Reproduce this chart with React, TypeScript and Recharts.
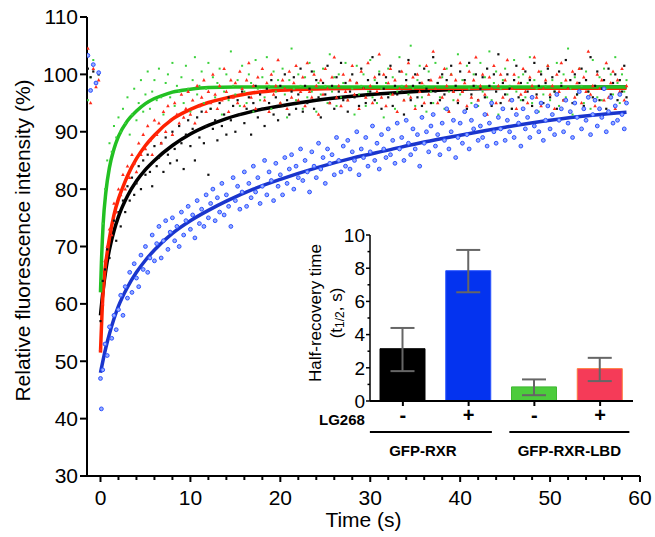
import React from 'react';
import {
  ComposedChart,
  BarChart,
  Bar,
  Cell,
  ErrorBar,
  Scatter,
  Line,
  XAxis,
  YAxis,
} from 'recharts';

// ---- main FRAP recovery data (time in s, intensity in %) ----
// frames every 0.25 s, rows of 10 frames (2.5 s)
const times = [
  0, 0.25, 0.5, 0.75, 1, 1.25, 1.5, 1.75, 2, 2.25,
  2.5, 2.75, 3, 3.25, 3.5, 3.75, 4, 4.25, 4.5, 4.75,
  5, 5.25, 5.5, 5.75, 6, 6.25, 6.5, 6.75, 7, 7.25,
  7.5, 7.75, 8, 8.25, 8.5, 8.75, 9, 9.25, 9.5, 9.75,
  10, 10.25, 10.5, 10.75, 11, 11.25, 11.5, 11.75, 12, 12.25,
  12.5, 12.75, 13, 13.25, 13.5, 13.75, 14, 14.25, 14.5, 14.75,
  15, 15.25, 15.5, 15.75, 16, 16.25, 16.5, 16.75, 17, 17.25,
  17.5, 17.75, 18, 18.25, 18.5, 18.75, 19, 19.25, 19.5, 19.75,
  20, 20.25, 20.5, 20.75, 21, 21.25, 21.5, 21.75, 22, 22.25,
  22.5, 22.75, 23, 23.25, 23.5, 23.75, 24, 24.25, 24.5, 24.75,
  25, 25.25, 25.5, 25.75, 26, 26.25, 26.5, 26.75, 27, 27.25,
  27.5, 27.75, 28, 28.25, 28.5, 28.75, 29, 29.25, 29.5, 29.75,
  30, 30.25, 30.5, 30.75, 31, 31.25, 31.5, 31.75, 32, 32.25,
  32.5, 32.75, 33, 33.25, 33.5, 33.75, 34, 34.25, 34.5, 34.75,
  35, 35.25, 35.5, 35.75, 36, 36.25, 36.5, 36.75, 37, 37.25,
  37.5, 37.75, 38, 38.25, 38.5, 38.75, 39, 39.25, 39.5, 39.75,
  40, 40.25, 40.5, 40.75, 41, 41.25, 41.5, 41.75, 42, 42.25,
  42.5, 42.75, 43, 43.25, 43.5, 43.75, 44, 44.25, 44.5, 44.75,
  45, 45.25, 45.5, 45.75, 46, 46.25, 46.5, 46.75, 47, 47.25,
  47.5, 47.75, 48, 48.25, 48.5, 48.75, 49, 49.25, 49.5, 49.75,
  50, 50.25, 50.5, 50.75, 51, 51.25, 51.5, 51.75, 52, 52.25,
  52.5, 52.75, 53, 53.25, 53.5, 53.75, 54, 54.25, 54.5, 54.75,
  55, 55.25, 55.5, 55.75, 56, 56.25, 56.5, 56.75, 57, 57.25,
  57.5, 57.75, 58, 58.25, 58.5,
];

const greenPts = [
  64, 74, 80, 85, 88, 86.5, 91, 89, 92.5, 90,
  94, 91.5, 96, 89.5, 93, 97.5, 92, 95, 99, 93.5,
  96.5, 100.5, 94, 97, 99, 95.5, 101, 96, 93, 98.5,
  100, 96, 102, 94.5, 98, 97, 99.5, 95, 101.5, 97.5,
  93.5, 99, 103, 96.5, 98, 100.5, 95, 97.5, 102, 94,
  99.5, 96, 98.5, 101, 93, 97, 100, 95.5, 104, 98,
  96.5, 99, 94.5, 101.5, 97, 95, 100, 98.5, 93.5, 102.5,
  97.5, 95.5, 99.5, 96, 103, 98, 94, 100.5, 97, 99,
  95, 101, 96.5, 92.5, 99, 104.5, 97.5, 95.5, 100, 98,
  94, 99.5, 96, 102, 97, 100.5, 93.5, 98.5, 96.5, 101,
  98, 95, 103.5, 97, 99.5, 94.5, 100, 96, 98.5, 102,
  95.5, 99, 97.5, 93, 101.5, 96.5, 98, 100, 94.5, 97,
  102.5, 96, 99, 95, 100.5, 97.5, 92.5, 98.5, 101, 96.5,
  99.5, 94, 97, 103, 98, 95.5, 100, 96.5, 105, 97.5,
  94.5, 99, 101.5, 96, 98, 93.5, 100.5, 97, 95, 102,
  98.5, 96, 99.5, 94, 101, 97, 100, 95.5, 98, 103.5,
  96.5, 99, 93.5, 101.5, 97.5, 95, 100, 98, 94.5, 102,
  97, 99.5, 96, 104, 95.5, 98.5, 100.5, 93, 97.5, 99,
  101, 96.5, 98, 94, 102.5, 97, 99.5, 95.5, 100, 96,
  98.5, 103, 95, 99, 97.5, 93.5, 100.5, 96.5, 98, 101.5,
  95.5, 99, 97, 102, 94.5, 98.5, 100, 96, 104.5, 97.5,
  93, 99.5, 96.5, 101, 98, 95, 100.5, 97, 94, 102.5,
  98, 96, 99.5, 95.5, 101, 97.5, 93.5, 100, 96.5, 103,
  98.5, 95, 100, 97, 99,
];

const redPts = [
  52, 60, 67.5, 70, 73, 72, 77.5, 76, 80, 79,
  82.5, 80, 84, 82, 86, 84.5, 83, 88, 86, 89.5,
  87, 91, 88.5, 86, 92, 89.5, 91.5, 88, 93.5, 90,
  94.5, 92, 89.5, 95, 93, 91.5, 96.5, 92.5, 94, 97,
  93, 95.5, 91.5, 98, 94.5, 96, 99, 93.5, 97, 95,
  100, 96.5, 94, 98, 95.5, 101, 97, 93.5, 99, 96,
  98.5, 95, 100.5, 97.5, 94.5, 99, 102, 96, 98, 94,
  99.5, 97, 101, 95.5, 98.5, 93.5, 100, 96.5, 98, 102.5,
  95, 99, 97.5, 94, 100.5, 96, 98.5, 101.5, 95.5, 97,
  99.5, 94.5, 102, 97, 96, 100, 98, 93, 99, 96.5,
  101, 97.5, 95, 99.5, 103, 96, 98, 94.5, 100, 97,
  95.5, 99, 101.5, 96.5, 98.5, 94, 100.5, 97.5, 96, 102,
  98, 95, 99.5, 97, 103.5, 96, 100, 94.5, 98.5, 101,
  96.5, 99, 93.5, 97.5, 100.5, 95.5, 98, 102, 96, 99.5,
  94, 100, 97, 98.5, 95, 101.5, 96.5, 99, 104, 97.5,
  95, 99.5, 96, 101, 98, 93.5, 100, 97, 99, 95.5,
  102, 97, 98.5, 94.5, 100.5, 96, 99, 103, 95.5, 98,
  100, 96.5, 93, 99.5, 97.5, 101.5, 95, 98, 100, 96,
  99, 102.5, 95.5, 97.5, 100, 94, 98.5, 96.5, 101, 97,
  95, 99.5, 98, 103, 96, 100.5, 94.5, 97.5, 99, 101.5,
  96.5, 98, 94, 100, 97, 102, 95.5, 99, 97.5, 93.5,
  100.5, 96, 98.5, 101, 95, 99.5, 97, 104, 96.5, 98,
  94.5, 100, 97.5, 99, 95.5, 102, 96, 98.5, 100.5, 94,
  99, 97, 101, 95.5, 98,
];

const blackPts = [
  57, 64, 66, 69.5, 68, 72, 74.5, 71, 76, 73.5,
  78, 76, 80.5, 78, 82, 79, 81, 84, 80, 85,
  82.5, 86, 83, 80.5, 87.5, 84, 85.5, 88, 83, 89,
  86, 84.5, 90, 87, 85, 91, 88, 83.5, 89.5, 92,
  87.5, 90.5, 85, 92.5, 89, 93.5, 88, 91, 82.5, 94,
  90.5, 92, 88.5, 95, 91, 93, 89.5, 96, 92, 94.5,
  90, 95.5, 93, 97, 91.5, 94, 96, 89.5, 95, 98,
  92.5, 96.5, 94, 91, 97.5, 95, 99, 93, 96, 92,
  98, 94.5, 100, 95.5, 93, 97, 99.5, 94, 96.5, 101,
  93.5, 98, 95, 97.5, 100.5, 94, 99, 96, 92.5, 98.5,
  96.5, 101.5, 95, 98, 94, 99.5, 97, 102, 95.5, 98.5,
  93.5, 97, 100, 96, 98.5, 94.5, 101, 97.5, 95, 99,
  97, 103, 95.5, 98.5, 100, 94, 97.5, 99.5, 96, 101.5,
  94.5, 98, 96.5, 100.5, 97, 93, 99, 102.5, 95.5, 98,
  100, 96, 98.5, 94.5, 101, 97.5, 99, 95, 103, 97,
  98.5, 95.5, 100, 96.5, 99, 93.5, 101.5, 97, 98, 95,
  100.5, 97, 99, 94, 102, 96.5, 98, 100, 95.5, 97.5,
  99.5, 96, 101, 98, 94.5, 100, 97, 103.5, 95, 98.5,
  96.5, 100, 97.5, 94, 99, 101.5, 96, 98.5, 95.5, 100.5,
  97, 99, 94.5, 102, 96.5, 98, 100, 95, 98.5, 101,
  96, 99.5, 97, 94, 100.5, 98, 95.5, 102.5, 97.5, 99,
  95, 100, 96.5, 98.5, 101, 94.5, 99, 97, 103, 96,
  98, 100.5, 95.5, 97.5, 99, 94, 101, 96.5, 98.5, 100,
  95.5, 99, 97, 101.5, 96,
];

const bluePts = [
  47, 48.5, 53, 51, 56, 54, 58, 55.5, 59, 61.5,
  58, 63, 61, 65.5, 62, 67, 64.5, 63, 68.5, 66,
  70, 65.5, 68, 72, 67.5, 70.5, 73.5, 68, 71, 74.5,
  69.5, 72.5, 75, 71, 73.5, 70, 76, 72, 74.5, 77,
  73, 75.5, 71.5, 78, 74, 76.5, 73.5, 79, 75, 77.5,
  80, 74.5, 78.5, 76, 81, 75.5, 79, 77, 73.5, 82,
  78, 80.5, 76.5, 79.5, 83, 77, 81, 78.5, 84, 79.5,
  82, 77.5, 80.5, 85, 79, 83, 81.5, 78, 84.5, 80.5,
  82.5, 79, 85.5, 81, 83.5, 86, 80, 84, 82, 87,
  81.5, 85, 83, 79.5, 86.5, 84, 82, 88, 83.5, 85.5,
  81, 87, 84.5, 86, 82.5, 89, 85, 83, 87.5, 84,
  88.5, 83.5, 86.5, 85, 90, 82.5, 87, 85.5, 89, 84,
  86.5, 91, 85, 88, 83.5, 89.5, 87, 85.5, 90.5, 86,
  88.5, 84.5, 91.5, 87, 89, 85, 92, 88, 86, 90.5,
  87, 89.5, 84, 92.5, 88, 90, 86.5, 91, 93, 87.5,
  89.5, 86, 91.5, 88.5, 94, 87, 90, 92, 85.5, 89,
  91.5, 88, 93.5, 89.5, 87, 92, 90.5, 94.5, 88.5, 91,
  89, 93, 87.5, 91.5, 95, 90, 88, 92.5, 90.5, 94,
  88.5, 92, 90, 95.5, 89, 93, 91.5, 87.5, 94, 90.5,
  92.5, 89, 96, 91, 93.5, 90, 95, 88.5, 92, 94.5,
  90.5, 93, 89.5, 96.5, 92, 94, 90, 95.5, 91.5, 93.5,
  89, 95, 92.5, 97, 90.5, 94, 92, 96, 89.5, 93,
  95.5, 91, 94, 92.5, 97.5, 90, 93.5, 96, 91.5, 94.5,
  92, 96.5, 93, 90.5, 95,
];

// points taken before bleaching
const preTimes = [-1.4, -1.1, -0.8, -0.5, -0.2];
const greenPre = [95.5, 99.5, 102.5, 98.6, 100];
const redPre = [104.5, 95, 101, 97.8, 99];
const blackPre = [101, 99.5, 100.5, 98.5, 100];
const bluePre = [103.3, 97.2, 101.7, 98.5, 100.3];

const blueLowTimes = [0.1];
const blueLow = [41.7];

// fitted recovery curves
const greenFitT = [0, 0.1, 0.3, 0.6, 1, 1.5, 2, 3, 4, 5, 6, 7, 8, 10, 12, 15, 30, 58.5];
const greenFitV = [62, 67, 74, 79.5, 83.8, 87, 89.2, 91.9, 93.6, 94.9, 95.8, 96.4, 96.9, 97.4, 97.7, 97.8, 97.8, 97.8];
const redFitT = [0, 0.25, 0.5, 0.75, 1, 1.5, 2, 2.5, 3, 4, 5, 6, 8, 10, 12, 14, 17, 20, 25, 30, 58.5];
const redFitV = [51.5, 61, 66, 69, 71.5, 75.5, 78.3, 80.4, 82.3, 85.3, 87.6, 89.4, 92.2, 93.9, 95.1, 95.9, 96.8, 97.25, 97.5, 97.6, 97.6];
const blackFitT = [0, 0.3, 0.6, 1, 1.5, 2, 3, 4, 5, 6, 8, 10, 12, 14, 17, 20, 24, 28, 32, 36, 40, 45, 58.5];
const blackFitV = [58, 62.5, 66, 69.5, 72.7, 75.2, 78.8, 81.4, 83.4, 85, 87.6, 89.6, 91.1, 92.3, 93.6, 94.5, 95.5, 96.2, 96.7, 97.1, 97.4, 97.6, 97.8];
const blueFitT = [0, 0.3, 0.6, 1, 1.5, 2, 3, 4, 5, 6, 8, 10, 12, 14, 17, 20, 24, 28, 32, 36, 40, 45, 50, 55, 58.5];
const blueFitV = [48, 50.3, 52.4, 54.8, 57.4, 59.6, 62.9, 65.5, 67.6, 69.4, 72.3, 74.5, 76.3, 77.9, 80, 81.7, 83.7, 85.4, 86.8, 88.2, 89.4, 90.8, 92, 92.9, 93.4];

const xTicks = [0, 2, 4, 6, 8, 10, 12, 14, 16, 18, 20, 22, 24, 26, 28, 30, 32, 34, 36, 38, 40, 42, 44, 46, 48, 50, 52, 54, 56, 58, 60];
const yTicks = [30, 40, 50, 60, 70, 80, 90, 100, 110];

// ---- inset: half-recovery times ----
const insetIds = ['GFP-RXR -', 'GFP-RXR +', 'GFP-RXR-LBD -', 'GFP-RXR-LBD +'];
const insetSigns = ['-', '+', '-', '+'];
const insetValues = [3.15, 7.85, 0.85, 1.95];
const insetErrors = [[1.35, 1.25], [1.3, 1.25], [0.5, 0.45], [0.75, 0.65]];
const insetFills = ['#000000', '#0433ef', '#4ccc3c', '#f53b58'];
const insetStrokes = ['#000000', '#2a55ff', '#3fb832', '#ff7a3a'];
const insetYTicks = [0, 1, 2, 3, 4, 5, 6, 7, 8, 9, 10];

const zip = (ts: number[], vs: number[]) => ts.map((t, i) => ({ t, v: vs[i] }));

const greenData = [...zip(preTimes, greenPre), ...zip(times, greenPts)];
const redData = [...zip(preTimes, redPre), ...zip(times, redPts)];
const blackData = [...zip(preTimes, blackPre), ...zip(times, blackPts)];
const blueData = [...zip(preTimes, bluePre), ...zip(blueLowTimes, blueLow), ...zip(times, bluePts)];

const insetData = insetIds.map((id, i) => ({ id, value: insetValues[i], err: insetErrors[i] }));

const FONT = '"Liberation Sans", Arial, Helvetica, sans-serif';

const greenDot = (p: any) => (
  <rect x={p.cx - 1} y={p.cy - 1} width={2} height={2} fill="#3ad13a" />
);
const blackDot = (p: any) => (
  <rect x={p.cx - 1.1} y={p.cy - 1.1} width={2.2} height={2.2} fill="#111" />
);
const redDot = (p: any) => (
  <path
    d={`M${p.cx},${p.cy - 2} L${p.cx + 1.8},${p.cy + 1.3} L${p.cx - 1.8},${p.cy + 1.3}Z`}
    fill="#ff2a1a"
  />
);
const blueDot = (p: any) => (
  <circle cx={p.cx} cy={p.cy} r={1.9} fill="#98adff" stroke="#2b50ff" strokeWidth={1} />
);

const MainXTick = (props: any) => {
  const { x, y, payload } = props;
  const major = payload.value % 10 === 0;
  return (
    <g>
      <line x1={x} x2={x} y1={y} y2={y + (major ? 6 : 4)} stroke="#000" strokeWidth={2} />
      {major && (
        <text x={x} y={y + 29} textAnchor="middle" fontSize={21} fill="#000">
          {payload.value}
        </text>
      )}
    </g>
  );
};

const renderYTitle = (props: any) => {
  const { viewBox } = props;
  const cx = viewBox.x + 22;
  const cy = viewBox.y + viewBox.height / 2 - 6;
  return (
    <text
      x={cx}
      y={cy}
      transform={`rotate(-90 ${cx} ${cy})`}
      textAnchor="middle"
      dominantBaseline="central"
      fontSize={21}
      fill="#000"
    >
      Relative fluorescence intensity (%)
    </text>
  );
};

const renderXTitle = (props: any) => {
  const { viewBox } = props;
  return (
    <text
      x={viewBox.x + viewBox.width / 2}
      y={viewBox.y + 51}
      textAnchor="middle"
      fontSize={21}
      fill="#000"
    >
      Time (s)
    </text>
  );
};

const InsetXTick = (props: any) => {
  const { x, y, index } = props;
  return (
    <g fontFamily={FONT}>
      <line x1={x} x2={x} y1={y} y2={y + 5} stroke="#000" strokeWidth={2} />
      <text x={x} y={y + 21} textAnchor="middle" fontSize={20} fontWeight="bold" fill="#000">
        {insetSigns[index]}
      </text>
      {index === 0 && (
        <>
          <text x={x - 38} y={y + 24} textAnchor="end" fontSize={15} fontWeight="bold" fill="#000">
            LG268
          </text>
          <line x1={x - 33} x2={x + 89} y1={y + 31} y2={y + 31} stroke="#000" strokeWidth={2} />
          <text x={x + 20} y={y + 55} textAnchor="middle" fontSize={15} fontWeight="bold" fill="#000">
            GFP-RXR
          </text>
        </>
      )}
      {index === 2 && (
        <>
          <line x1={x - 25} x2={x + 95} y1={y + 31} y2={y + 31} stroke="#000" strokeWidth={2} />
          <text x={x + 35} y={y + 55} textAnchor="middle" fontSize={15} fontWeight="bold" fill="#000">
            GFP-RXR-LBD
          </text>
        </>
      )}
    </g>
  );
};

const InsetYTick = (props: any) => {
  const { x, y, payload } = props;
  const major = payload.value % 2 === 0;
  return (
    <g>
      <line x1={x - (major ? 4 : 2.5)} x2={x} y1={y} y2={y} stroke="#000" strokeWidth={1.5} />
      {major && (
        <text x={x - 5} y={y} dy="0.36em" textAnchor="end" fontSize={19} fill="#000">
          {payload.value}
        </text>
      )}
    </g>
  );
};

const renderInsetYTitle = (props: any) => {
  const { viewBox } = props;
  const cy = viewBox.y + viewBox.height / 2 - 5;
  const x1 = viewBox.x + 25;
  const x2 = viewBox.x + 46;
  return (
    <g fontSize={17} fill="#000">
      <text x={x1} y={cy} transform={`rotate(-90 ${x1} ${cy})`} textAnchor="middle" dominantBaseline="central">
        Half-recovery time
      </text>
      <text x={x2} y={cy} transform={`rotate(-90 ${x2} ${cy})`} textAnchor="middle" dominantBaseline="central">
        (t<tspan fontSize={12} dy={4}>1/2</tspan><tspan dy={-4}>, s)</tspan>
      </text>
    </g>
  );
};

export default function App() {
  return (
    <div
      style={{
        position: 'absolute',
        left: 0,
        top: 0,
        width: 655,
        height: 537,
        background: '#fff',
        fontFamily: FONT,
      }}
    >
      <ComposedChart width={655} height={537} margin={{ top: 17, right: 15, bottom: 0, left: 0 }}>
        <XAxis
          type="number"
          dataKey="t"
          domain={[-1.5, 60]}
          allowDataOverflow
          ticks={xTicks}
          interval={0}
          height={61}
          axisLine={{ stroke: '#000', strokeWidth: 2 }}
          tickLine={false}
          tickSize={0}
          tickMargin={0}
          tick={<MainXTick />}
          label={{ content: renderXTitle }}
        />
        <YAxis
          type="number"
          dataKey="v"
          domain={[30, 110]}
          allowDataOverflow
          ticks={yTicks}
          interval={0}
          width={87}
          axisLine={{ stroke: '#000', strokeWidth: 2 }}
          tickLine={{ stroke: '#000', strokeWidth: 2 }}
          tickSize={7}
          tickMargin={2}
          tick={{ fontSize: 21, fill: '#000' }}
          label={{ content: renderYTitle }}
        />
        <Scatter data={greenData} shape={greenDot} isAnimationActive={false} />
        <Scatter data={blackData} shape={blackDot} isAnimationActive={false} />
        <Scatter data={redData} shape={redDot} isAnimationActive={false} />
        <Scatter data={blueData} shape={blueDot} isAnimationActive={false} />
        <Line data={zip(blueFitT, blueFitV)} dataKey="v" type="monotone" stroke="#1a35cc" strokeWidth={3.5} dot={false} activeDot={false} isAnimationActive={false} />
        <Line data={zip(blackFitT, blackFitV)} dataKey="v" type="monotone" stroke="#000" strokeWidth={3.5} dot={false} activeDot={false} isAnimationActive={false} />
        <Line data={zip(redFitT, redFitV)} dataKey="v" type="monotone" stroke="#ff2200" strokeWidth={3.5} dot={false} activeDot={false} isAnimationActive={false} />
        <Line data={zip(greenFitT, greenFitV)} dataKey="v" type="monotone" stroke="#22c022" strokeWidth={3.5} dot={false} activeDot={false} isAnimationActive={false} />
      </ComposedChart>

      <div style={{ position: 'absolute', left: 290, top: 220 }}>
        <BarChart width={355} height={245} data={insetData} margin={{ top: 15, right: 12, bottom: 0, left: 0 }}>
          <XAxis
            dataKey="id"
            height={64}
            interval={0}
            axisLine={{ stroke: '#000', strokeWidth: 2 }}
            tickLine={false}
            tickSize={0}
            tickMargin={0}
            tick={<InsetXTick />}
          />
          <YAxis
            type="number"
            domain={[0, 10]}
            ticks={insetYTicks}
            interval={0}
            width={80}
            axisLine={{ stroke: '#000', strokeWidth: 1.5 }}
            tickLine={false}
            tickSize={0}
            tickMargin={0}
            tick={<InsetYTick />}
            label={{ content: renderInsetYTitle }}
          />
          <Bar dataKey="value" barSize={45} isAnimationActive={false}>
            {insetData.map((d, i) => (
              <Cell key={d.id} fill={insetFills[i]} stroke={insetStrokes[i]} strokeWidth={1} />
            ))}
            <ErrorBar dataKey="err" width={12} stroke="#666" strokeWidth={2} direction="y" />
          </Bar>
        </BarChart>
      </div>
    </div>
  );
}
